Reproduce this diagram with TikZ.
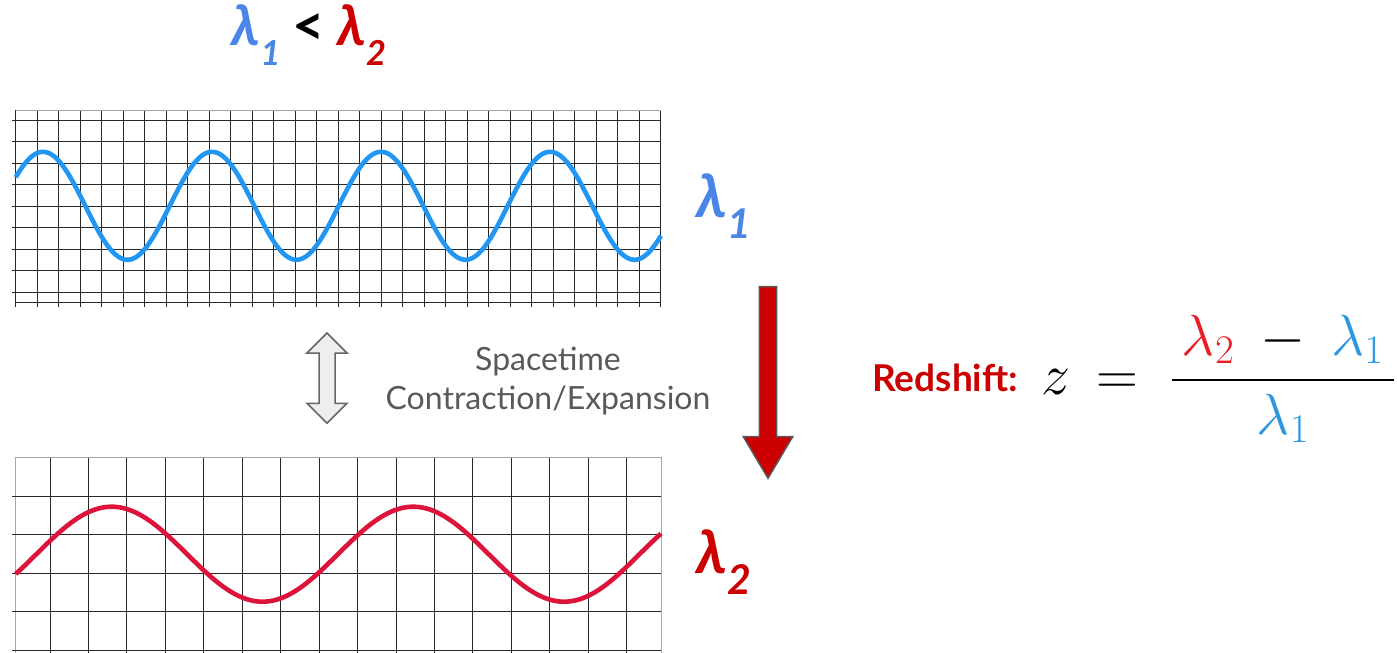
\RequirePackage{fix-cm}
\documentclass[tikz,border=0pt]{standalone}
\usepackage{amsmath}
\usepackage{fontspec}
\newfontfamily\lato{Lato}
\usetikzlibrary{positioning}

\definecolor{lamblue}{RGB}{74,134,232}
\definecolor{lamred}{RGB}{204,0,0}
\definecolor{waveblue}{RGB}{33,150,243}
\definecolor{wavered}{RGB}{220,20,60}
\definecolor{fracred}{RGB}{237,28,36}
\definecolor{fracblue}{RGB}{45,152,225}
\definecolor{textgray}{RGB}{89,89,89}
\definecolor{gridgray}{RGB}{40,40,40}

% lambda with a lowered subscript digit
\newcommand{\lamsub}[2]{λ\raisebox{-0.36em}{\fontsize{#1}{#1}\selectfont #2}}

\begin{document}
\begin{tikzpicture}[
    x=0.5pt, y=-0.5pt,
    gridline/.style={draw=gridgray, line width=0.5pt},
    gridedge/.style={draw=gray!70, line width=0.5pt},
    wave/.style={line width=2.3pt, line join=round},
    toplbl/.style={font=\lato\bfseries\itshape\fontsize{28}{32}\selectfont, inner sep=0pt, anchor=base},
    sidelbl/.style={font=\lato\bfseries\itshape\fontsize{30}{34}\selectfont, inner sep=0pt, anchor=base west},
    mathlbl/.style={font=\fontsize{29}{35}\selectfont, inner sep=0pt, anchor=base}
]
\useasboundingbox (0,0) rectangle (1397,653);
\fill[white] (0,0) rectangle (1397,653);

% upper grid
\foreach \k in {0,...,30}
  \draw[gridline] ({15.7+21.5*\k},110) -- ({15.7+21.5*\k},306.7);
\foreach \k in {0,...,8}
  \draw[gridline] (12.3,{120+21.5*\k}) -- (661,{120+21.5*\k});
\draw[gridline] (15.7,302.3) -- (661,302.3);
\draw[gridedge] (15.7,110) -- (661,110);

% lower grid
\foreach \k in {0,...,15}
  \draw[gridline] ({50+38.45*\k},457.3) -- ({50+38.45*\k},653);
\draw[gridedge] (15.7,457.3) -- (15.7,653);
\draw[gridedge] (661,457.3) -- (661,653);
\draw[gridedge] (15.7,457.3) -- (661,457.3);
\foreach \k in {0,...,4}
  \draw[gridline] (12.3,{496+38.5*\k}) -- (661,{496+38.5*\k});

% waves
\draw[wave, waveblue] plot[domain=15.7:661, samples=240, smooth]
  (\x, {205.8-54*cos(((\x-43)/169)*360)});
\draw[wave, wavered] plot[domain=15.7:661, samples=200, smooth]
  (\x, {554.2-47.5*cos(((\x-111.7)/301.6)*360)});

% labels
\node[toplbl] (cmp) at (309,45)
  {\textcolor{lamblue}{\lamsub{17.2}{1}} {\upshape <} \textcolor{lamred}{\lamsub{17.2}{2}}};
\node[sidelbl, lamblue] (lam1) at (696,217) {\lamsub{20.5}{1}};
\node[sidelbl, lamred] (lam2) at (696,573.3) {\lamsub{20.5}{2}};

% double arrow and caption
\draw[fill=gray!13, draw=gray!80!black, line width=0.75pt]
  (327,333) -- (347,353) -- (335,353) -- (335,403.3) -- (347,403.3) -- (327,423.3)
  -- (307,403.3) -- (319,403.3) -- (319,353) -- (307,353) -- cycle;
\node[font=\lato\fontsize{16}{19.5}\selectfont, text=textgray, align=center] (cap) at (548,381)
  {Spacetime\\Contraction/Expansion};

% redshift arrow
\draw[fill=lamred, draw=textgray, line width=0.75pt]
  (759.3,286.7) -- (776.7,286.7) -- (776.7,436.7) -- (792.7,436.7) -- (768,478.3)
  -- (743.3,436.7) -- (759.3,436.7) -- cycle;

% formula
\node[font=\lato\bfseries\fontsize{18.5}{22}\selectfont, text=lamred, inner sep=0pt, anchor=base west]
  (rs) at (872,391.7) {Redshift:};
\node[mathlbl] (zsym) at (1055.5,394.5) {$z$};
\node[mathlbl] (eqsym) at (1117.5,394.5) {$=$};
\node[mathlbl] (zfrac) at (1283,394.5)
  {$\displaystyle\frac{\,\textcolor{fracred}{\lambda_2}\:-\:\textcolor{fracblue}{\lambda_1}\,}{\textcolor{fracblue}{\lambda_1}}$};
\end{tikzpicture}
\end{document}
